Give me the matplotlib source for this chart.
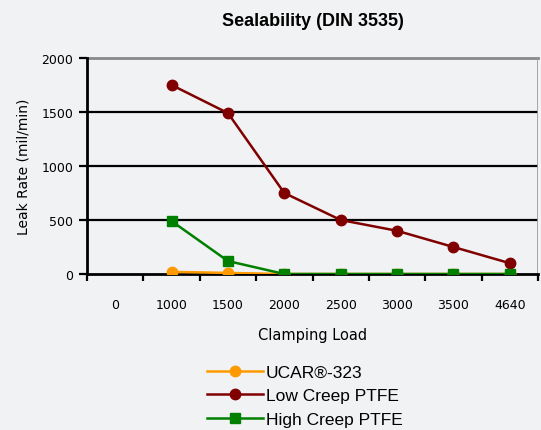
import matplotlib.pyplot as plt
import numpy as np

categories = ['0', '1000', '1500', '2000', '2500', '3000', '3500', '4640']
ucar = [None, 20, 10, 0, 0, 0, 0, 0]
low_creep = [None, 1750, 1490, 750, 500, 400, 250, 100]
high_creep = [None, 490, 120, 0, 0, 0, 0, 0]

bg = '#f1f2f4'
fig = plt.figure(figsize=(5.41, 4.31), dpi=100, facecolor=bg)
ax = fig.add_axes([87 / 541, 1 - 275 / 431, (538 - 87) / 541, (275 - 59) / 431])
ax.set_facecolor(bg)

x = np.arange(len(categories))


def as_arr(vals):
    return np.array([np.nan if v is None else v for v in vals], dtype=float)


ax.plot(x, as_arr(ucar), color='#ff9900', marker='o', markersize=7.5, lw=1.8,
        label='UCAR®-323', zorder=3)
ax.plot(x, as_arr(low_creep), color='#800000', marker='o', markersize=7.5, lw=1.8,
        label='Low Creep PTFE', zorder=4)
ax.plot(x, as_arr(high_creep), color='#008000', marker='s', markersize=7.5, lw=1.8,
        label='High Creep PTFE', zorder=5)

ax.set_xlim(-0.5, 7.5)
ax.set_ylim(0, 2000)
ax.set_yticks([0, 500, 1000, 1500, 2000])
for yv in [500, 1000, 1500]:
    ax.axhline(yv, color='black', lw=1.6, zorder=1)
ax.axhline(2000, color='#888888', lw=2, zorder=1, clip_on=False)

ax.set_xticks(x)
ax.set_xticklabels(categories, fontsize=9)
ax.set_xticks(np.arange(-0.5, 8, 1), minor=True)
ax.tick_params(axis='x', which='major', length=0, pad=17)
ax.tick_params(axis='x', which='minor', length=5, width=1.6, direction='out')
ax.tick_params(axis='y', length=6, width=1.6, labelsize=9, pad=4)

for side in ['top', 'right']:
    ax.spines[side].set_visible(False)
ax.spines['left'].set_linewidth(2)
ax.spines['bottom'].set_linewidth(2)
ax.axvline(7.5, color='#999999', lw=1.2, zorder=1)

ax.set_ylabel('Leak Rate (mil/min)', fontsize=10, labelpad=8)
ax.set_xlabel('Clamping Load', fontsize=10.5, labelpad=12)
ax.set_title('Sealability (DIN 3535)', fontsize=13, fontweight='bold',
             family='Liberation Sans', pad=24)

leg = fig.legend(loc='upper left', bbox_to_anchor=(207 / 541, 1 - 366 / 431),
                 frameon=False, prop={'family': 'Liberation Sans', 'size': 12.5},
                 handlelength=3.2, handletextpad=0.2, labelspacing=0.47,
                 borderaxespad=0, borderpad=0)

fig.savefig('out.png', dpi=100, facecolor=bg)
